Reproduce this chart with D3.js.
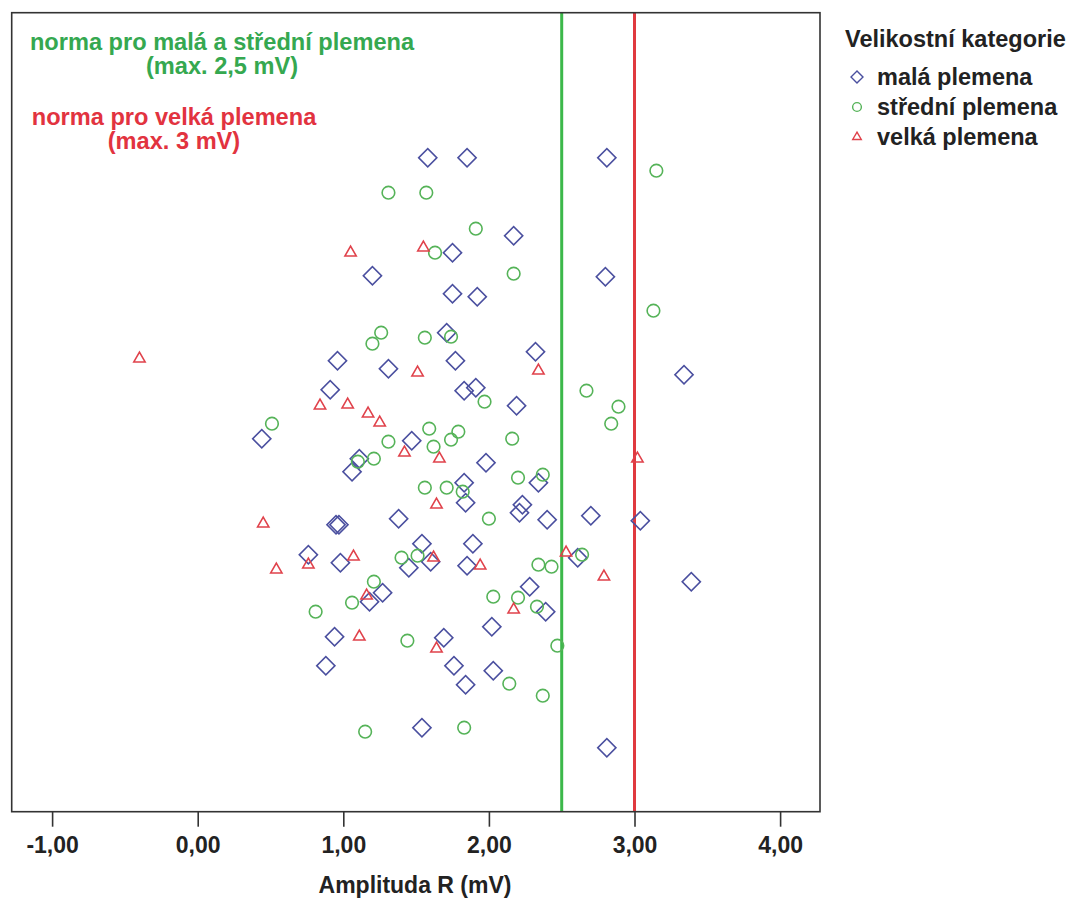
<!DOCTYPE html>
<html>
<head>
<meta charset="utf-8">
<script src="https://cdn.jsdelivr.net/npm/d3@7"></script>
<style>
  html, body { margin: 0; padding: 0; background: #ffffff; }
  svg { display: block; }
  text { font-family: "Liberation Sans", Arial, sans-serif; }
</style>
</head>
<body>
<svg id="chart" width="1075" height="900"></svg>
<script>
// ---- data ----
// x = Amplituda R (mV); y = vertical jitter position (arbitrary units, 0 = bottom)
const malaX = [1.58,1.85,2.81,2.17,1.75,1.20,2.80,1.75,1.92,1.71,2.32,0.96,1.77,1.31,3.34,0.91,1.83,1.91,2.19,0.44,1.47,1.98,1.11,1.06,1.83,2.34,1.84,1.38,2.23,2.21,2.40,2.70,3.04,0.95,0.97,1.54,1.89,0.76,0.98,1.60,1.45,1.85,2.61,3.39,2.28,1.27,1.18,2.39,2.02,0.94,1.69,0.88,1.76,2.03,1.84,1.54,2.81];
const malaY = [654,654,654,576,559,536,535,518,515,479,460,451,451,443,437,422,421,424,406,373,371,349,353,340,329,329,309,293,307,299,292,296,291,287,287,268,268,257,249,250,244,246,254,230,225,219,210,200,185,175,174,146,146,141,127,84,64];

const stredniX = [3.15,1.31,1.57,1.91,1.63,2.17,3.13,1.26,1.20,1.56,1.74,2.67,1.97,2.89,2.84,0.51,1.59,1.79,1.74,1.62,1.31,2.16,1.10,1.21,2.20,2.37,1.56,1.71,1.82,2.00,1.40,1.51,2.64,2.34,2.43,1.21,1.06,0.81,2.03,2.20,2.33,1.44,2.47,2.14,2.37,1.15,1.83];
const stredniY = [641,619,619,583,559,538,501,479,468,474,475,421,410,405,388,388,383,380,372,365,370,373,350,353,334,337,324,324,320,293,254,256,257,247,245,230,209,200,215,214,205,171,166,128,116,80,84];

const velkaX = [-0.40,1.05,1.55,1.51,2.34,0.84,1.03,1.17,1.25,1.42,1.66,3.02,1.64,0.45,1.07,1.62,0.76,0.54,1.94,2.53,2.79,1.16,2.17,1.11,1.64];
const velkaY = [453,559,564,439,441,406,407,398,389,359,353,353,307,288,255,254,247,242,246,259,235,216,202,175,163];

const xTicks = [-1, 0, 1, 2, 3, 4];
const normValues = [2.5, 3];
const normColors = ["#3cb84a", "#e0393f"];

const seriesNames = ["malá plemena", "střední plemena", "velká plemena"];
const legendTitle = "Velikostní kategorie";
const xTitle = "Amplituda R (mV)";
const noteGreen = ["norma pro malá a střední plemena", "(max. 2,5 mV)"];
const noteRed = ["norma pro velká plemena", "(max. 3 mV)"];

// ---- layout ----
const svg = d3.select("#chart");
const plot = { left: 11.7, right: 820, top: 12.7, bottom: 811.7 };
const xDomain = [-1.2775, 4.274];
const yDomain = [0, 799];

const x = d3.scaleLinear().domain(xDomain).range([plot.left, plot.right]);
const y = d3.scaleLinear().domain(yDomain).range([plot.bottom, plot.top]);

const locale = d3.formatLocale({ decimal: ",", thousands: " ", grouping: [3], currency: ["", ""], minus: "-" });
const fmt = locale.format(".2f");

const styles = [
  { color: "#4a4f9f", type: d3.symbolSquare, size: 165, rot: 45, lsize: 72 },
  { color: "#55b358", type: d3.symbolCircle, size: 125, rot: 0, lsize: 60 },
  { color: "#e0424b", type: d3.symbolTriangle, size: 55, rot: 0, lsize: 32 }
];
const series = [
  { xs: malaX, ys: malaY },
  { xs: stredniX, ys: stredniY },
  { xs: velkaX, ys: velkaY }
];

// reference lines
svg.append("g").selectAll("line").data(normValues).join("line")
  .attr("x1", d => x(d)).attr("x2", d => x(d))
  .attr("y1", plot.top).attr("y2", plot.bottom)
  .attr("stroke", (d, i) => normColors[i])
  .attr("stroke-width", 3);

// points
series.forEach((s, i) => {
  const st = styles[i];
  const sym = d3.symbol().type(st.type).size(st.size);
  svg.append("g").selectAll("path").data(s.xs.map((v, k) => [v, s.ys[k]])).join("path")
    .attr("d", sym)
    .attr("transform", d => `translate(${x(d[0])},${y(d[1])}) rotate(${st.rot})`)
    .attr("fill", "none")
    .attr("stroke", st.color)
    .attr("stroke-width", 1.6);
});

// frame
svg.append("rect")
  .attr("x", plot.left).attr("y", plot.top)
  .attr("width", plot.right - plot.left).attr("height", plot.bottom - plot.top)
  .attr("fill", "none").attr("stroke", "#333").attr("stroke-width", 1.6);

// x axis
const xAxis = d3.axisBottom(x).tickValues(xTicks).tickFormat(fmt).tickSize(15).tickPadding(10);
const gx = svg.append("g").attr("transform", `translate(0,${plot.bottom})`).call(xAxis);
gx.select(".domain").remove();
gx.selectAll(".tick line").attr("stroke", "#333").attr("stroke-width", 1.6);
gx.selectAll(".tick text")
  .attr("font-family", "Liberation Sans, Arial, sans-serif")
  .attr("font-size", 23).attr("font-weight", "bold").attr("fill", "#222");

svg.append("text").attr("x", 415).attr("y", 893)
  .attr("text-anchor", "middle").attr("font-size", 23).attr("font-weight", "bold")
  .attr("fill", "#222").text(xTitle);

// annotations
svg.append("g").selectAll("text").data(noteGreen).join("text")
  .attr("x", 222).attr("y", (d, i) => 50 + i * 24)
  .attr("text-anchor", "middle").attr("font-size", 23.6).attr("font-weight", "bold")
  .attr("fill", "#35a850").text(d => d);
svg.append("g").selectAll("text").data(noteRed).join("text")
  .attr("x", 174).attr("y", (d, i) => 125 + i * 24)
  .attr("text-anchor", "middle").attr("font-size", 23.6).attr("font-weight", "bold")
  .attr("fill", "#e2333f").text(d => d);

// legend
const lg = svg.append("g");
lg.append("text").attr("x", 845).attr("y", 47).attr("font-size", 23.5).attr("font-weight", "bold")
  .attr("fill", "#222").text(legendTitle);
seriesNames.forEach((name, i) => {
  const st = styles[i];
  const cy = 77 + i * 30;
  lg.append("path")
    .attr("d", d3.symbol().type(st.type).size(st.lsize))
    .attr("transform", `translate(857,${cy}) rotate(${st.rot})`)
    .attr("fill", "none").attr("stroke", st.color).attr("stroke-width", 1.4);
  lg.append("text").attr("x", 877).attr("y", cy + 8).attr("font-size", 23.5).attr("font-weight", "bold")
    .attr("fill", "#222").text(name);
});
</script>
</body>
</html>
